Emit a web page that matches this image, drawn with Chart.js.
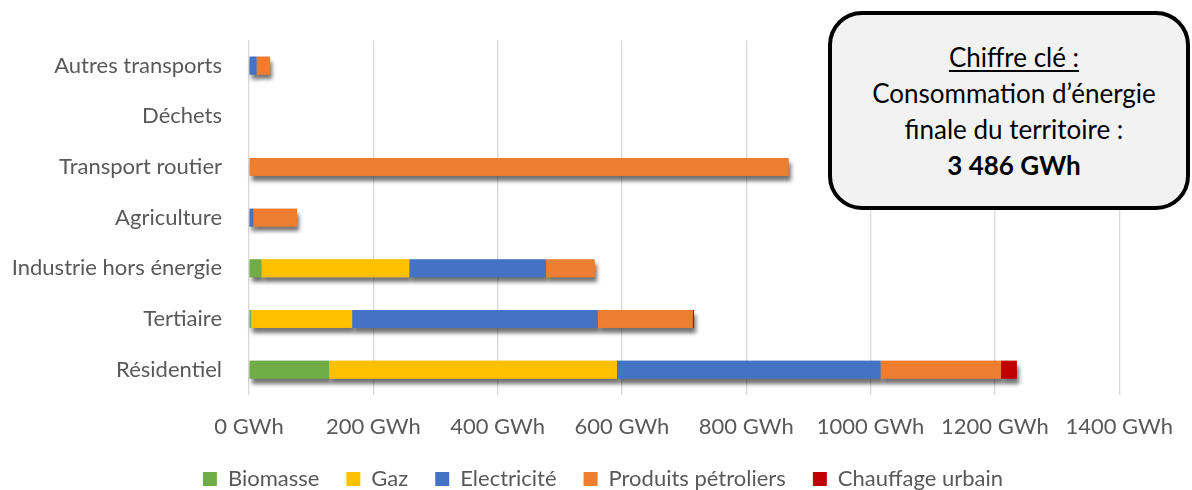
<!DOCTYPE html>
<html lang="fr">
<head>
<meta charset="utf-8">
<title>Consommation d'énergie finale par secteur</title>
<script src="https://cdn.jsdelivr.net/npm/chart.js@4/dist/chart.umd.min.js"></script>
<style>
  html, body { margin: 0; padding: 0; background: #ffffff; }
  #wrap { position: relative; width: 1192px; height: 490px; }
  #chart { position: absolute; left: 0; top: 0; }
  #keyBox {
    position: absolute; left: 828px; top: 11px; width: 362px; height: 199px;
    box-sizing: border-box; border: 4px solid #000; border-radius: 34px;
    background: #f2f2f2; color: #000;
    font-family: Lato, "Open Sans", sans-serif; font-size: 26px; line-height: 36px;
    text-align: center; padding: 24px 0 0 10px;
  }
  #keyBox .title { text-decoration: underline; text-underline-offset: 3px; }
  #keyBox .total { font-weight: bold; }
</style>
</head>
<body>
<div id="wrap">
  <canvas id="chart" width="1192" height="490"></canvas>
  <div id="keyBox">
    <div class="title">Chiffre clé :</div>
    <div>Consommation d’énergie</div>
    <div>finale du territoire :</div>
    <div class="total" id="totalText"></div>
  </div>
</div>
<script>
// Secteurs (de haut en bas) et consommation par source, en GWh
const sectors = ['Autres transports', 'Déchets', 'Transport routier', 'Agriculture',
                 'Industrie hors énergie', 'Tertiaire', 'Résidentiel'];
const biomasse        = [0, 0, 0,   0,  20,   3, 129];
const gaz             = [0, 0, 0,   0, 238, 163, 463];
const electricite     = [12, 0, 0,  7, 220, 395, 424];
const produitsPetrol  = [22, 0, 868, 70, 78, 153, 194];
const chauffageUrbain = [0, 0, 0,   0,   0,   2,  25];

const sourceNames  = ['Biomasse', 'Gaz', 'Electricité', 'Produits pétroliers', 'Chauffage urbain'];
const sourceValues = [biomasse, gaz, electricite, produitsPetrol, chauffageUrbain];
const sourceColors = ['#70ad47', '#ffc000', '#4472c4', '#ed7d31', '#c00000'];

const xTicks = [0, 200, 400, 600, 800, 1000, 1200, 1400];
const unit = 'GWh';

// Total affiché dans l'encadré « Chiffre clé »
const total = sourceValues.flat().reduce((a, b) => a + b, 0);
document.getElementById('totalText').textContent =
  String(total).replace(/\B(?=(\d{3})+(?!\d))/g, ' ') + ' ' + unit;

const FONT = 'Lato, "Open Sans", sans-serif';
const GREY_TEXT = '#595959';

// Ombre portée sous chaque barre, dessinée avant les barres elles-mêmes
const barShadow = {
  id: 'barShadow',
  beforeDatasetsDraw(chart) {
    const ctx = chart.ctx;
    ctx.save();
    ctx.shadowColor = 'rgba(0,0,0,0.55)';
    ctx.shadowBlur = 4;
    ctx.shadowOffsetX = 2;
    ctx.shadowOffsetY = 5;
    chart.data.datasets.forEach((ds, i) => {
      const meta = chart.getDatasetMeta(i);
      if (meta.hidden) return;
      meta.data.forEach(el => {
        const p = el.getProps(['x', 'y', 'base', 'height'], true);
        const w = p.x - p.base;
        if (w <= 0) return;
        ctx.fillStyle = ds.backgroundColor;
        ctx.fillRect(p.base, p.y - p.height / 2, w, p.height);
      });
    });
    ctx.restore();
  }
};

// Place la légende sur une ligne centrée, en bas du canevas
const legendPlacement = {
  id: 'legendPlacement',
  afterLayout(chart) {
    const lg = chart.legend;
    if (!lg) return;
    lg.top = 441;
    lg.bottom = 490;
    lg.height = lg.bottom - lg.top;
    lg.left = 85;
    lg.right = 1121;
    lg.width = lg.right - lg.left;
  }
};

new Chart(document.getElementById('chart'), {
  type: 'bar',
  data: {
    labels: sectors,
    datasets: sourceNames.map((name, i) => ({
      label: name,
      data: sourceValues[i],
      backgroundColor: sourceColors[i],
      borderWidth: 0,
      barPercentage: 0.35,
      categoryPercentage: 1
    }))
  },
  plugins: [barShadow, legendPlacement],
  options: {
    indexAxis: 'y',
    responsive: false,
    animation: false,
    devicePixelRatio: 1,
    layout: { padding: { top: 40, left: 0, right: 71, bottom: 0 } },
    plugins: {
      tooltip: { enabled: false },
      legend: {
        position: 'bottom',
        maxHeight: 47,
        labels: {
          boxWidth: 14, boxHeight: 14, padding: 27,
          color: GREY_TEXT,
          font: { family: FONT, size: 22 }
        }
      }
    },
    scales: {
      x: {
        stacked: true,
        min: 0, max: 1400,
        afterBuildTicks(scale) { scale.ticks = xTicks.map(v => ({ value: v })); },
        afterFit(scale) { scale.height = 48; },
        border: { display: false },
        grid: { color: '#d9d9d9', lineWidth: 1.3, drawTicks: false },
        ticks: {
          padding: 19, autoSkip: false, maxRotation: 0,
          color: GREY_TEXT,
          font: { family: FONT, size: 22 },
          callback: v => v + ' ' + unit
        }
      },
      y: {
        stacked: true,
        afterFit(scale) { scale.width = 249; },
        border: { display: false },
        grid: { display: false, drawTicks: false },
        ticks: {
          padding: 27,
          color: GREY_TEXT,
          font: { family: FONT, size: 22 }
        }
      }
    }
  }
});
</script>
</body>
</html>
